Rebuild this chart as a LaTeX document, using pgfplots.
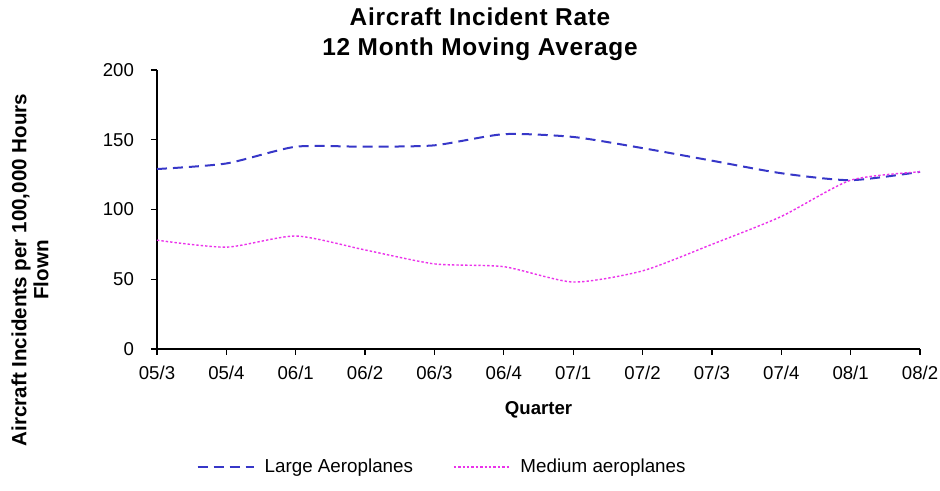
\documentclass[border=0pt]{standalone}
\usepackage{fontspec}
\setmainfont{Liberation Sans}
\newfontfamily\titlefont[LetterSpace=3]{Liberation Sans}
\usepackage{pgfplots}
\pgfplotsset{compat=1.18}
\definecolor{largec}{RGB}{55,55,200}
\definecolor{medc}{RGB}{235,50,235}
\begin{document}
\begin{tikzpicture}
\useasboundingbox (-78.5pt,-71pt) rectangle (391.5pt,174.5pt);
\begin{axis}[
  scale only axis,
  width=381.5pt, height=139.5pt,
  xmin=0, xmax=11, ymin=0, ymax=200,
  axis lines=left,
  axis line style={-, line width=0.6pt},
  xtick={0,...,11},
  xticklabels={05/3,05/4,06/1,06/2,06/3,06/4,07/1,07/2,07/3,07/4,08/1,08/2},
  ytick={0,50,100,150,200},
  tick align=outside,
  major tick length=3pt,
  tick style={line width=0.6pt, black},
  /pgf/number format/assume math mode=true,
  tick label style={font=\fontsize{9.3}{10}\selectfont},
  xticklabel style={yshift=-2pt},
  yticklabel style={xshift=-5pt},
  legend style={at={(rel axis cs:0.375,-0.423)}, anchor=center, draw=none,
    legend columns=2, font=\fontsize{9.4}{10}\selectfont,
    /tikz/every odd column/.append style={column sep=3pt},
    /tikz/every even column/.append style={column sep=18pt}},
  legend image code/.code={\draw[#1] (0pt,0pt) -- (28pt,0pt);},
  clip=false,
]
\addplot[largec, line width=1pt, dash pattern=on 5pt off 3pt, smooth, tension=0.4] coordinates {
(0,129) (1,133) (2,145) (3,145) (4,146) (5,154) (6,152) (7,144) (8,135) (9,126) (10,121) (11,127)};
\addlegendentry{Large Aeroplanes}
\addplot[medc, line width=0.7pt, dash pattern=on 1.2pt off 1pt, smooth, tension=0.4] coordinates {
(0,78) (1,73) (2,81) (3,71) (4,61) (5,59) (6,48) (7,56) (8,75) (9,95) (10,121) (11,127)};
\addlegendentry{Medium aeroplanes}
\end{axis}
\node[align=center, font=\titlefont\bfseries\fontsize{12.2}{15}\selectfont] at (161.5pt,157.5pt) {Aircraft Incident Rate\\12 Month Moving Average};
\node[font=\bfseries\fontsize{9.3}{10}\selectfont] at (190.75pt,-30.5pt) {Quarter};
\node[align=center, rotate=90, font=\bfseries\fontsize{10.3}{11}\selectfont] at (-63.5pt,39.5pt) {Aircraft Incidents per 100,000 Hours\\Flown};
\end{tikzpicture}
\end{document}
